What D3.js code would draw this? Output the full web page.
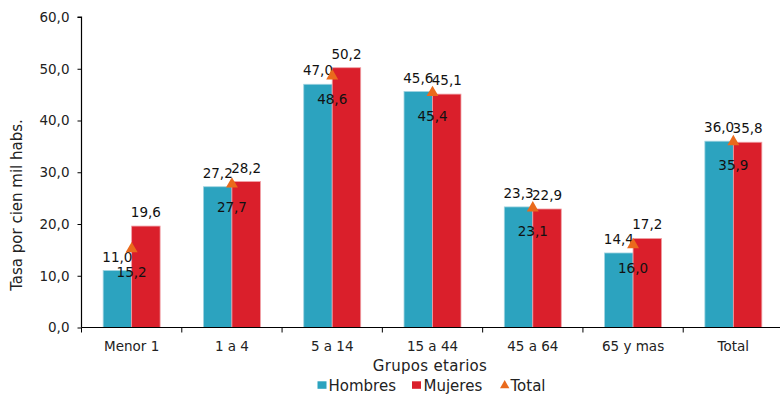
<!DOCTYPE html>
<html>
<head>
<meta charset="utf-8">
<script src="https://cdn.jsdelivr.net/npm/d3@7"></script>
<style>
  html, body { margin: 0; padding: 0; background: #fff; }
  svg { display: block; font-family: "DejaVu Sans", Verdana, sans-serif; }
</style>
</head>
<body>
<svg id="chart" width="780" height="394"></svg>
<script>
// Tasa por cien mil habitantes, por grupo etario y sexo
const categories = ["Menor 1", "1 a 4", "5 a 14", "15 a 44", "45 a 64", "65 y mas", "Total"];
const hombres = [11.0, 27.2, 47.0, 45.6, 23.3, 14.4, 36.0];
const mujeres = [19.6, 28.2, 50.2, 45.1, 22.9, 17.2, 35.8];
const total   = [15.2, 27.7, 48.6, 45.4, 23.1, 16.0, 35.9];
const yTicks  = [0, 10, 20, 30, 40, 50, 60];
const seriesNames = ["Hombres", "Mujeres"];

const colors = { Hombres: "#2ca3bf", Mujeres: "#da1f2b", Total: "#ea6a1c" };
const edges  = { Hombres: "#9fd3e0", Mujeres: "#f0a0a6" };
const textColor = "#222";

const svg = d3.select("#chart");
const plotLeft = 81.5, plotRight = 783.5, plotTop = 17, plotBottom = 327.5;

const x = d3.scaleBand().domain(categories).range([plotLeft, plotRight])
  .paddingInner(0.432).paddingOuter(0.216);
const xs = d3.scaleBand().domain(seriesNames).range([0, x.bandwidth()]);
const y = d3.scaleLinear().domain([0, 60]).range([plotBottom, plotTop]);
const fmt = v => d3.format(".1f")(v).replace(".", ",");

// Bars
const rows = categories.map((c, i) => ({ c, Hombres: hombres[i], Mujeres: mujeres[i], Total: total[i] }));
const g = svg.append("g");
rows.forEach(r => {
  seriesNames.forEach(s => {
    g.append("rect")
      .attr("x", x(r.c) + xs(s))
      .attr("y", y(r[s]))
      .attr("width", xs.bandwidth())
      .attr("height", y(0) - y(r[s]))
      .attr("fill", colors[s])
      .attr("stroke", edges[s])
      .attr("stroke-width", 0.8);
  });
});

// Axes
const yAxis = d3.axisLeft(y).tickValues(yTicks).tickFormat(fmt).tickSize(4).tickPadding(8);
svg.append("g").attr("transform", `translate(${plotLeft},0)`).call(yAxis)
  .call(a => a.select(".domain").attr("stroke", "#000").attr("stroke-width", 1.2)
    .attr("d", `M-4,${plotTop}H0V${plotBottom}`))
  .call(a => a.selectAll(".tick line").attr("stroke", "#000"))
  .call(a => a.selectAll("text").attr("font-size", 13.5).attr("fill", textColor)
    .attr("font-family", "DejaVu Sans, Verdana, sans-serif"));

const xAxis = d3.axisBottom(x).tickSize(0).tickPadding(14);
svg.append("g").attr("transform", `translate(0,${plotBottom})`).call(xAxis)
  .call(a => a.select(".domain").attr("stroke", "#000").attr("stroke-width", 1.2)
    .attr("d", `M${plotLeft},0H${plotRight}`))
  .call(a => a.selectAll("text").attr("font-size", 13.5).attr("fill", textColor)
    .attr("font-family", "DejaVu Sans, Verdana, sans-serif"));

// Boundary ticks between categories
const bounds = categories.map(c => x(c) - x.step() * x.paddingInner() / 2).concat([plotRight]);
svg.append("g").selectAll("line").data(bounds).join("line")
  .attr("x1", d => d).attr("x2", d => d)
  .attr("y1", plotBottom).attr("y2", plotBottom + 5)
  .attr("stroke", "#000").attr("stroke-width", 1);

// Value labels
const labels = svg.append("g").attr("font-size", 13.5).attr("fill", "#111").attr("text-anchor", "middle");
rows.forEach(r => {
  seriesNames.forEach(s => {
    labels.append("text")
      .attr("x", x(r.c) + xs(s) + xs.bandwidth() / 2)
      .attr("y", y(r[s]) - 9)
      .text(fmt(r[s]));
  });
});

// Total markers
const tri = d3.symbol().type(d3.symbolTriangle).size(62);
svg.append("g").selectAll("path").data(rows).join("path")
  .attr("d", tri)
  .attr("transform", d => `translate(${x(d.c) + x.bandwidth() / 2},${y(d.Total)})`)
  .attr("fill", colors.Total);
rows.forEach(r => {
  labels.append("text")
    .attr("x", x(r.c) + x.bandwidth() / 2)
    .attr("y", y(r.Total) + 28)
    .text(fmt(r.Total));
});

// Axis titles
svg.append("text")
  .attr("transform", "translate(22,205) rotate(-90)")
  .attr("text-anchor", "middle").attr("font-size", 15).attr("fill", textColor)
  .text("Tasa por cien mil habs.");
svg.append("text")
  .attr("x", 430).attr("y", 371)
  .attr("text-anchor", "middle").attr("font-size", 15).attr("fill", textColor)
  .attr("letter-spacing", 0.3)
  .text("Grupos etarios");

// Legend
const legend = svg.append("g").attr("font-size", 15).attr("fill", textColor);
const legendItems = [
  { name: "Hombres", x: 317.5, tx: 328.5, shape: "rect" },
  { name: "Mujeres", x: 412, tx: 423.5, shape: "rect" },
  { name: "Total", x: 500, tx: 510.5, shape: "tri" }
];
legendItems.forEach(it => {
  if (it.shape === "rect") {
    legend.append("rect").attr("x", it.x).attr("y", 381.3).attr("width", 9).attr("height", 7.5)
      .attr("fill", colors[it.name]);
  } else {
    legend.append("path").attr("d", d3.symbol().type(d3.symbolTriangle).size(38)())
      .attr("transform", `translate(${it.x + 4.7},${385.5})`).attr("fill", colors.Total);
  }
  legend.append("text").attr("x", it.tx).attr("y", 390.5).text(it.name);
});
</script>
</body>
</html>
